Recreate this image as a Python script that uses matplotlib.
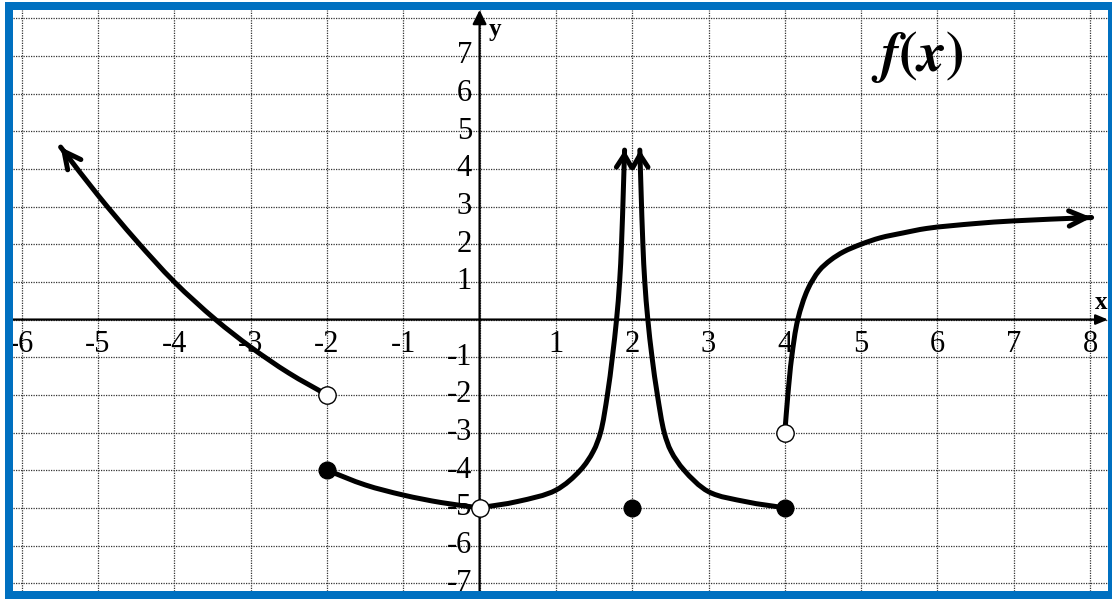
import numpy as np
import matplotlib.pyplot as plt
from matplotlib.path import Path
from matplotlib.patches import PathPatch, Rectangle

plt.rcParams['font.family'] = ['Liberation Serif', 'DejaVu Serif']
plt.rcParams['mathtext.fontset'] = 'stix'

# tick labels on the axes
x_ticks = [-6, -5, -4, -3, -2, -1, 1, 2, 3, 4, 5, 6, 7, 8]
y_ticks = [-7, -6, -5, -4, -3, -2, -1, 1, 2, 3, 4, 5, 6, 7]

# pieces of f(x), points read along each branch
left_x = [-5.49, -5.0, -4.5, -4.0, -3.46, -3.0, -2.5, -2.0]
left_y = [4.58, 3.30, 2.10, 1.00, 0.00, -0.73, -1.42, -2.00]

mid_x = [-2.0, -1.5, -1.0, -0.5, 0.0]
mid_y = [-4.0, -4.39, -4.66, -4.86, -5.0]

peak_l_x = [0.0, 0.5, 1.0, 1.32, 1.49, 1.585, 1.675, 1.74, 1.795, 1.835, 1.86, 1.885, 1.90]
peak_l_y = [-5.0, -4.83, -4.53, -4.0, -3.5, -3.0, -2.0, -1.0, 0.0, 1.0, 2.0, 3.5, 4.5]

peak_r_x = [2.10, 2.115, 2.14, 2.165, 2.205, 2.26, 2.33, 2.42, 2.51, 2.68, 3.0, 3.5, 4.0]
peak_r_y = [4.5, 3.5, 2.0, 1.0, 0.0, -1.0, -2.0, -3.0, -3.5, -4.0, -4.57, -4.84, -5.0]

right_x = [4.0, 4.04, 4.09, 4.17, 4.30, 4.45, 4.60, 4.77, 5.0, 5.25, 5.55, 5.86, 6.5, 7.0, 8.02]
right_y = [-3.0, -2.0, -1.0, 0.0, 0.8, 1.3, 1.58, 1.80, 2.0, 2.17, 2.30, 2.42, 2.55, 2.62, 2.71]

open_x = [-2, 0, 4]
open_y = [-2, -5, -3]
closed_x = [-2, 2, 4]
closed_y = [-4, -5, -5]

LW = 3.6
XLIM = (-6.118, 8.235)
YLIM = (-7.20, 8.22)
SX, SY = 76.31, 37.65   # pixels per unit on each axis


def smooth_path(xs, ys):
    # centripetal Catmull-Rom through the points (in pixel-like units),
    # written out as cubic Bezier segments in data coordinates
    p = np.column_stack([np.asarray(xs) * SX, np.asarray(ys) * SY])
    p = np.vstack([2 * p[0] - p[1], p, 2 * p[-1] - p[-2]])
    d = np.sqrt(np.hypot(*(np.diff(p, axis=0).T)))
    verts = [p[1]]
    codes = [Path.MOVETO]
    for i in range(1, len(p) - 2):
        p0, p1, p2, p3 = p[i - 1], p[i], p[i + 1], p[i + 2]
        d0, d1, d2 = d[i - 1], d[i], d[i + 1]
        m1 = (p1 - p0) / d0 - (p2 - p0) / (d0 + d1) + (p2 - p1) / d1
        m2 = (p2 - p1) / d1 - (p3 - p1) / (d1 + d2) + (p3 - p2) / d2
        verts += [p1 + m1 * d1 / 3, p2 - m2 * d1 / 3, p2]
        codes += [Path.CURVE4] * 3
    verts = np.array(verts) / [SX, SY]
    return Path(verts, codes)


def draw_branch(ax, xs, ys, head_at=None, hl=0.9, hw=0.5):
    ax.add_patch(PathPatch(smooth_path(xs, ys), fill=False, lw=LW,
                           ec='black', capstyle='round', joinstyle='round',
                           zorder=4))
    if head_at is not None:
        tip = (xs[head_at], ys[head_at])
        j = head_at + 1 if head_at == 0 else head_at - 1
        back = (tip[0] + 0.25 * (xs[j] - tip[0]), tip[1] + 0.25 * (ys[j] - tip[1]))
        ax.annotate('', xy=tip, xytext=back,
                    arrowprops=dict(arrowstyle=f'->,head_length={hl},head_width={hw}',
                                    lw=LW, color='black', mutation_scale=10,
                                    shrinkA=0, shrinkB=0),
                    zorder=4)


fig = plt.figure(figsize=(11.12, 5.99), dpi=100)
ax = fig.add_axes([12.7 / 1112, 8.3 / 599, (1108 - 12.7) / 1112, (590.7 - 10) / 599])
ax.set_xlim(*XLIM)
ax.set_ylim(*YLIM)

ax.set_xticks(np.arange(-6, 9))
ax.set_yticks(np.arange(-7, 9))
ax.grid(True, color='#333333', lw=0.9, ls=(0, (1, 1)), zorder=0.5)
ax.tick_params(length=0, labelbottom=False, labelleft=False)
for s in ax.spines.values():
    s.set_visible(False)
ax.set_axisbelow(True)

# coordinate axes with arrow heads
ax.annotate('', xy=(XLIM[1], 0), xytext=(XLIM[0], 0),
            arrowprops=dict(arrowstyle='-|>,head_length=0.6,head_width=0.25',
                            lw=1.6, color='black', mutation_scale=12,
                            shrinkA=0, shrinkB=0), zorder=2)
ax.annotate('', xy=(0, YLIM[1]), xytext=(0, YLIM[0]),
            arrowprops=dict(arrowstyle='-|>,head_length=0.6,head_width=0.3',
                            lw=1.6, color='black', mutation_scale=14,
                            shrinkA=0, shrinkB=0), zorder=2)

for v in x_ticks:
    ax.text(v, -0.66, str(v), ha='center', va='center', fontsize=22, zorder=3)
for v in y_ticks:
    ax.text(-0.1, v, str(v), ha='right', va='center', fontsize=22, zorder=3)

ax.text(0.20, 7.69, 'y', ha='center', va='center', fontsize=18,
        fontweight='bold', zorder=3)
ax.text(8.14, 0.44, 'x', ha='center', va='center', fontsize=18,
        fontweight='bold', zorder=3)
ax.text(5.73, 6.97, r'$\mathbfit{f}\mathbf{(}\mathbfit{x}\mathbf{)}$',
        ha='center', va='center', fontsize=40, zorder=3)

draw_branch(ax, left_x, left_y, head_at=0, hl=1.2, hw=0.6)
draw_branch(ax, mid_x, mid_y)
draw_branch(ax, peak_l_x, peak_l_y, head_at=len(peak_l_x) - 1, hl=0.9, hw=0.55)
draw_branch(ax, peak_r_x, peak_r_y, head_at=0, hl=0.9, hw=0.55)
draw_branch(ax, right_x, right_y, head_at=len(right_x) - 1, hl=1.2, hw=0.55)

ax.plot(open_x, open_y, 'o', ms=12.5, mfc='white', mec='black', mew=1.0,
        zorder=6, clip_on=False)
ax.plot(closed_x, closed_y, 'o', ms=12, mfc='black', mec='black',
        zorder=6, clip_on=False)

# blue frame
blue = '#0070C0'


def frame(x0, top, w, h):
    fig.add_artist(Rectangle((x0 / 100, (599 - top - h) / 100), w / 100, h / 100,
                             transform=fig.dpi_scale_trans, color=blue,
                             lw=0, zorder=10))


frame(5, 1.7, 1107, 8.3)
frame(5, 590.7, 1107, 8.3)
frame(5, 1.7, 7.7, 597.3)
frame(1108, 1.7, 4, 597.3)

fig.savefig('out.png', dpi=100)
